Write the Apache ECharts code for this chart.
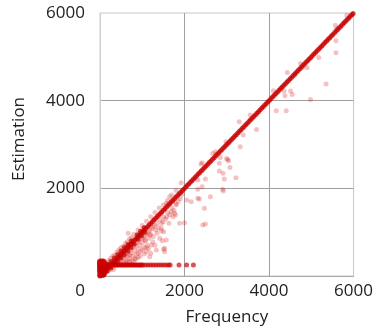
<!DOCTYPE html>
<html>
<head>
<meta charset="utf-8">
<script src="https://cdn.jsdelivr.net/npm/echarts@6/dist/echarts.min.js"></script>
<style>
html,body{margin:0;padding:0;background:#fff;}
#chart{width:376px;height:334px;}
</style>
</head>
<body>
<div id="chart"></div>
<script>
// Axis setup
const axisMin = 0, axisMax = 6000, axisStep = 2000;
const xName = 'Frequency';
const yName = 'Estimation';

// [frequency, estimation] — dense band where estimation equals frequency
const diagonal = [
[0,0],[75,75],[150,150],[225,225],[300,300],[375,375],[450,450],[525,525],[600,600],[675,675],
[750,750],[825,825],[900,900],[975,975],[1050,1050],[1125,1125],[1200,1200],[1275,1275],[1350,1350],[1425,1425],
[1500,1500],[1575,1575],[1650,1650],[1725,1725],[1800,1800],[1875,1875],[1950,1950],[2025,2025],[2100,2100],[2175,2175],
[2250,2250],[2325,2325],[2400,2400],[2475,2475],[2550,2550],[2625,2625],[2700,2700],[2775,2775],[2850,2850],[2925,2925],
[3000,3000],[3075,3075],[3150,3150],[3225,3225],[3300,3300],[3375,3375],[3450,3450],[3525,3525],[3600,3600],[3675,3675],
[3750,3750],[3825,3825],[3900,3900],[3975,3975],[4050,4050],[4125,4125],[4200,4200],[4275,4275],[4350,4350],[4425,4425],
[4500,4500],[4575,4575],[4650,4650],[4725,4725],[4800,4800],[4875,4875],[4950,4950],[5025,5025],[5100,5100],[5175,5175],
[5250,5250],[5325,5325],[5400,5400],[5475,5475],[5550,5550],[5625,5625],[5700,5700],[5775,5775],[5850,5850],[5925,5925],
[5990,5990],
[37,37],[112,112],[187,187],[262,262],[337,337],[412,412],[487,487],[562,562],[637,637],[712,712],
[787,787],[862,862],[937,937],[1012,1012],[1087,1087],[1162,1162],[1237,1237],[1312,1312],[1387,1387],[1462,1462],
[1537,1537],[1612,1612],[1687,1687],[1762,1762],[1837,1837],[1912,1912],[1987,1987],[2062,2062],[2137,2137],[2212,2212],
[2287,2287],[2362,2362],[2437,2437],[2512,2512],[2587,2587],[2662,2662],[2737,2737],[2812,2812],[2887,2887],[2962,2962],
[3037,3037],[3112,3112],[3187,3187],[3262,3262],[3337,3337],[3412,3412],[3487,3487],[3562,3562],[3637,3637],[3712,3712],
[3787,3787],[3862,3862],[3937,3937],[4012,4012],[4087,4087],[4162,4162],[4237,4237],[4312,4312],[4387,4387],[4462,4462],
[4537,4537],[4612,4612],[4687,4687],[4762,4762],[4837,4837],[4912,4912],[4987,4987],[5062,5062],[5137,5137],[5212,5212],
[5287,5287],[5362,5362],[5437,5437],[5512,5512],[5587,5587],[5662,5662],[5737,5737],[5812,5812],[5887,5887],[5960,5960],
[40,90],[110,160],[190,250],[260,330],[340,410],[420,490],[500,570],[580,650],[660,720],[740,800],
[90,40],[170,110],[250,180],[330,260],[410,330],[490,410],[570,490],[650,570],[730,650],[810,730],
[880,940],[960,1020],[1040,1100],[900,840],[980,920],[1060,1000]
];

// Horizontal floor of estimations near 250
const floorLine = [
[0,250],[30,250],[60,250],[90,250],[120,250],[150,250],[180,250],[210,250],[240,250],[270,250],
[300,250],[330,250],[360,250],[390,250],[420,250],[450,250],[480,250],[510,250],[540,250],[570,250],
[600,250],[630,250],[660,250],[690,250],[720,250],[750,250],[780,250],[810,250],[840,250],[870,250],
[900,250],[930,250],[960,250],[990,250],[1020,250],[1080,250],[1140,250],[1200,250],[1260,250],[1320,250],[1380,250],[1440,250],
[1500,250],[1560,250],[1620,250],[1660,250],[1870,250],[2050,250],[2210,250]
];

// Solid cluster at the origin
const cornerCluster = [
[0,20],[40,20],[80,30],[20,60],[60,60],[100,70],[0,100],[40,100],[80,100],[120,110],
[0,140],[40,140],[80,140],[120,150],[0,180],[40,180],[80,180],[120,190],
[0,220],[40,220],[80,220],[120,230],[0,260],[40,260],[80,260],[120,270],
[0,300],[40,300],[80,300],[0,330],[40,330],[80,330]
];

// Scattered points off the band
const spread = [
[5843,5951],[5569,5723],[5608,5647],[5584,5365],[5584,5091],[5176,4986],[4745,4849],[4902,4750],[5349,4378],[4980,4029],
[4431,4644],[4612,4583],[4784,4758],[4102,4225],[4353,4218],[4510,4218],[4376,4111],[4549,4142],
[4172,3769],[4407,3769],[3553,3671],[3294,3518],[3702,3344],[3388,3215],[2981,3062],[3318,2948],[2730,2834],[2847,2706],
[2996,2683],[3043,2629],[2416,2583],[2824,2570],[3075,2478],[2824,2394],[2910,2342],[3216,2241],[2941,2212],[2494,2212],
[2314,2189],[1922,2128],[2902,1977],[2918,1938],[2416,2036],[2314,1977],[1946,1863],[2055,1733],[2157,1694],[2314,1771],
[2353,1756],[2612,1808],[2471,1543],[2667,2797],[3020,2660],[2392,2553],
[2431,1163],[2494,1186],[2000,1215],[1788,1391],[1725,1352],[1506,1011],[1451,1033],[1569,820],[1475,805],[1506,610],[1529,555],
[1647,1808],[1710,1717],[1569,1660],[1804,1619],[1686,1466],[1765,1429],[1584,1352],[1490,1238],[1631,1201],[1451,1087],
[1349,973],[1412,859],[1255,1125],[1176,935],[1059,821],[1216,707],[1333,593],[1529,631],[1098,554],[902,517],
[706,479],[824,403],[1176,440],[1882,1201],
[200,120],[250,150],[300,200],[320,150],[350,260],[380,300],[400,250],[420,330],[450,300],[470,380],
[500,350],[520,420],[540,300],[560,450],[580,400],[600,480],[620,350],[640,520],[660,450],[680,560],
[700,400],[720,600],[740,520],[760,640],[780,450],[800,680],[820,580],[840,700],[860,500],[880,760],
[900,620],[920,800],[940,700],[960,560],[980,850],[1000,760],[1020,880],[1040,650],[1060,920],[1080,800],
[1100,960],[1120,700],[1140,1000],[1160,860],[1180,1050],[1200,950],[1230,1080],[1260,900],[1290,1150],[1320,1050],
[1350,1200],[1380,1100],[1420,1280],[1460,1200],[1500,1350],[1550,1300],[1600,1450],[1650,1400],[1700,1550],[1750,1500],
[1800,1650],[1850,1700],[1900,1760],
[600,300],[650,320],[750,350],[850,380],[950,450],[1000,600],[1050,500],[900,420],[800,330],[700,330],
[1150,620],[1250,780],[1300,700],[1100,650],[1200,520],
[100,250],[150,300],[200,350],[250,400],[300,450],[350,480],[400,550],[450,600],[500,650],[550,680],
[600,750],[650,780],[700,850],[750,880],[800,950],[900,1050],[1000,1150],[1100,1250],[1200,1350],[1300,1450],
[1400,1550],[1500,1620],[1600,1720],[1700,1850],[1800,1950],[667,973]
];

const chart = echarts.init(document.getElementById('chart'), null, {renderer: 'canvas'});
const font = 'Open Sans';
const labelStyle = {color: '#222', fontSize: 17, fontFamily: font};
chart.setOption({
  animation: false,
  backgroundColor: '#fff',
  grid: {left: 100, right: 21, top: 13, bottom: 58, show: true, borderColor: '#c8c8c8', borderWidth: 1, backgroundColor: 'transparent'},
  xAxis: {
    type: 'value', min: axisMin, max: axisMax, interval: axisStep,
    name: xName, nameLocation: 'middle', nameGap: 33,
    nameTextStyle: {color: '#222', fontSize: 17, fontFamily: font},
    axisLine: {show: true, lineStyle: {color: '#aaa'}},
    axisTick: {show: false},
    splitLine: {show: true, showMinLine: false, showMaxLine: false, lineStyle: {color: '#a0a0a0'}},
    axisLabel: Object.assign({}, labelStyle, {
      margin: 7,
      formatter: v => v === 0 ? '{z|0}' : String(v),
      rich: {z: {color: '#222', fontSize: 17, fontFamily: font, padding: [0, 40, 0, 0]}}
    })
  },
  yAxis: {
    type: 'value', min: axisMin, max: axisMax, interval: axisStep,
    name: yName, nameLocation: 'middle', nameGap: 72,
    nameTextStyle: {color: '#222', fontSize: 17, fontFamily: font, padding: [0, 0, 0, 11]},
    axisLine: {show: true, lineStyle: {color: '#d0d0d0'}},
    axisTick: {show: false},
    splitLine: {show: true, showMinLine: false, showMaxLine: false, lineStyle: {color: '#a0a0a0'}},
    axisLabel: Object.assign({}, labelStyle, {margin: 15, showMinLabel: false, formatter: v => String(v)})
  },
  series: [
    {type: 'scatter', name: 'spread', data: spread, symbolSize: 5, clip: false,
     itemStyle: {color: 'rgba(214,20,20,0.32)'}},
    {type: 'scatter', name: 'floor', data: floorLine, symbolSize: 5, clip: false,
     itemStyle: {color: 'rgba(204,0,0,0.85)'}},
    {type: 'scatter', name: 'corner', data: cornerCluster, symbolSize: 6, clip: false,
     itemStyle: {color: 'rgba(204,0,0,0.9)'}},
    {type: 'scatter', name: 'diagonal', data: diagonal, symbolSize: 5, clip: false,
     itemStyle: {color: 'rgba(200,0,0,0.92)'}}
  ]
});
</script>
</body>
</html>
